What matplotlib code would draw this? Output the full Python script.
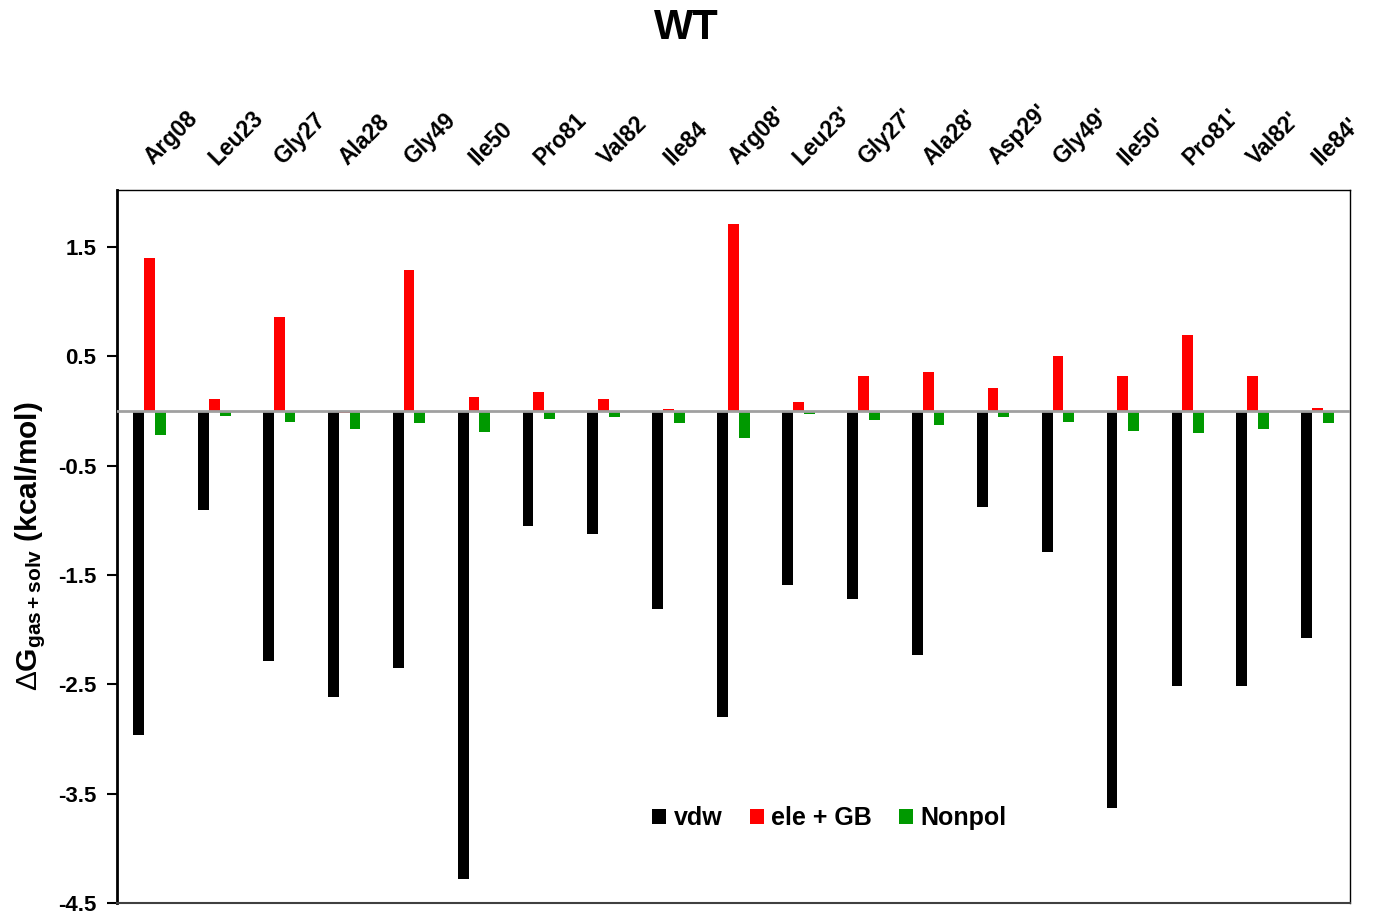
import matplotlib
matplotlib.use("Agg")
import matplotlib.pyplot as plt
import numpy as np

plt.rcParams['font.family'] = ['Liberation Sans', 'DejaVu Sans']
plt.rcParams['mathtext.fontset'] = 'custom'
plt.rcParams['mathtext.rm'] = 'Liberation Sans'
plt.rcParams['mathtext.bf'] = 'Liberation Sans:bold'
plt.rcParams['mathtext.it'] = 'Liberation Sans:italic'

residues = ["Arg08", "Leu23", "Gly27", "Ala28", "Gly49", "Ile50", "Pro81", "Val82", "Ile84",
            "Arg08'", "Leu23'", "Gly27'", "Ala28'", "Asp29'", "Gly49'", "Ile50'", "Pro81'", "Val82'", "Ile84'"]
vdw = [-2.96, -0.91, -2.29, -2.62, -2.35, -4.28, -1.05, -1.13, -1.81,
       -2.80, -1.59, -1.72, -2.23, -0.88, -1.29, -3.63, -2.52, -2.52, -2.08]
ele_gb = [1.40, 0.11, 0.86, -0.02, 1.29, 0.13, 0.17, 0.11, 0.02,
          1.71, 0.08, 0.32, 0.36, 0.21, 0.50, 0.32, 0.69, 0.32, 0.03]
nonpol = [-0.22, -0.045, -0.10, -0.17, -0.11, -0.19, -0.07, -0.06, -0.11,
          -0.25, -0.03, -0.085, -0.125, -0.06, -0.10, -0.18, -0.20, -0.17, -0.11]
yticks = [-4.5, -3.5, -2.5, -1.5, -0.5, 0.5, 1.5]

fig = plt.figure(figsize=(13.74, 9.14), dpi=100)
ax = fig.add_axes([117/1374, 1 - 903/914, (1350-117)/1374, (903-190)/914])

x = np.arange(len(residues))
w = 0.167
ax.bar(x - w, vdw, w, color='black', label='vdw', zorder=2)
ax.bar(x, ele_gb, w, color='#ff0000', label='ele + GB', zorder=2)
ax.bar(x + w, nonpol, w, color='#009900', label='Nonpol', zorder=2)
ax.axhline(0, color='#a0a0a0', lw=2, zorder=3)

ax.set_xlim(-0.5, len(residues) - 0.5)
ax.set_ylim(-4.5, 2.02)
ax.set_yticks(yticks)
ax.set_yticklabels([f"{v:.1f}" for v in yticks], fontsize=16, fontweight='bold')
ax.tick_params(axis='y', direction='out', length=7, width=1.5, pad=8)
ax.set_xticks([])

for i, r in enumerate(residues):
    ax.annotate(r, xy=(i, 1.0), xycoords=('data', 'axes fraction'),
                xytext=(5, 15), textcoords='offset points',
                rotation=45, rotation_mode='anchor', ha='left', va='bottom',
                fontsize=16.5, fontweight='bold')

for s in ['top', 'right']:
    ax.spines[s].set_linewidth(1.0)
    ax.spines[s].set_color('black')
ax.spines['left'].set_linewidth(2.0)
ax.spines['bottom'].set_linewidth(1.5)
ax.spines['bottom'].set_color('#404040')

ax.set_ylabel(r'$\Delta\mathbf{G}_{\mathbf{gas+solv}}$ (kcal/mol)', fontsize=21.5,
              fontweight='bold', labelpad=7)

leg = ax.legend(loc='center', bbox_to_anchor=(0.578, 0.119), ncol=3, frameon=False,
                handlelength=0.55, handleheight=0.55, handletextpad=0.3, columnspacing=1.1,
                prop={'size': 18, 'weight': 'bold'})

fig.text(686/1374, 1 - 28/914, 'WT', ha='center', va='center', fontsize=30, fontweight='bold')

fig.savefig('out.png', dpi=100)
